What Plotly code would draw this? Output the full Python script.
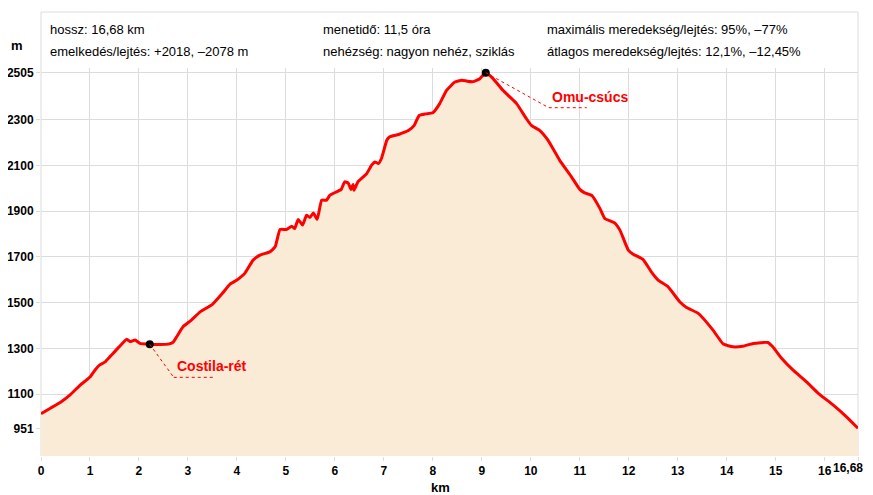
import plotly.graph_objects as go

# ---- data -------------------------------------------------------------
distance_km = [
    0.00, 0.20, 0.40, 0.60, 0.80, 1.00, 1.10, 1.20, 1.30, 1.40, 1.47, 1.60,
    1.75, 1.82, 1.92, 2.02, 2.22, 2.43, 2.62, 2.70, 2.77, 2.90, 3.07, 3.25,
    3.50, 3.70, 3.86, 4.00, 4.16, 4.33, 4.47, 4.67, 4.78, 4.88, 5.01, 5.12,
    5.18, 5.25, 5.34, 5.42, 5.49, 5.56, 5.64, 5.73, 5.83, 5.90, 6.03, 6.13,
    6.20, 6.27, 6.33, 6.37, 6.39, 6.47, 6.58, 6.65, 6.75, 6.82, 6.89, 6.95,
    7.00, 7.06, 7.12, 7.30, 7.50, 7.62, 7.72, 7.85, 8.00, 8.14, 8.28, 8.45,
    8.59, 8.70, 8.82, 8.96, 9.08, 9.23, 9.43, 9.71, 9.91, 10.01, 10.18,
    10.35, 10.59, 10.83, 11.00, 11.10, 11.25, 11.41, 11.51, 11.71, 11.82,
    11.99, 12.09, 12.29, 12.46, 12.60, 12.80, 13.04, 13.18, 13.42, 13.72,
    13.93, 14.13, 14.33, 14.54, 14.84, 14.94, 15.12, 15.35, 15.63, 15.87,
    16.17, 16.44, 16.68,
]
elevation_m = [
    1015, 1040, 1065, 1098, 1140, 1175, 1205, 1228, 1240, 1262, 1278, 1308,
    1340, 1330, 1337, 1322, 1318, 1317, 1320, 1328, 1351, 1395, 1424, 1460,
    1493, 1540, 1581, 1599, 1628, 1686, 1708, 1722, 1744, 1820, 1820, 1834,
    1824, 1864, 1839, 1882, 1872, 1892, 1864, 1948, 1948, 1970, 1984, 1995,
    2028, 2023, 1995, 2016, 1991, 2028, 2050, 2064, 2101, 2115, 2108, 2130,
    2166, 2210, 2225, 2235, 2252, 2275, 2318, 2325, 2330, 2370, 2428, 2464,
    2472, 2468, 2466, 2479, 2505, 2479, 2428, 2370, 2304, 2275, 2253,
    2210, 2122, 2050, 1995, 1980, 1968, 1912, 1868, 1849, 1817,
    1730, 1712, 1689, 1635, 1599, 1570, 1504, 1479, 1453, 1380,
    1319, 1307, 1310, 1322, 1326, 1307, 1257, 1206, 1154, 1104,
    1053, 1002, 951,
]

waypoint_names = ["Costila-rét", "Omu-csúcs"]
waypoint_km = [2.22, 9.08]
waypoint_m = [1318, 2505]

x_tickvals = [0, 1, 2, 3, 4, 5, 6, 7, 8, 9, 10, 11, 12, 13, 14, 15, 16, 16.68]
x_ticktext = ["0", "1", "2", "3", "4", "5", "6", "7", "8", "9", "10", "11",
              "12", "13", "14", "15", "16", "16,68"]
y_tickvals = [951, 1100, 1300, 1500, 1700, 1900, 2100, 2300, 2505]
y_ticktext = ["951", "1100", "1300", "1500", "1700", "1900", "2100", "2300", "2505"]

header_col1 = ["hossz: 16,68 km", "emelkedés/lejtés: +2018, –2078 m"]
header_col2 = ["menetidő: 11,5 óra", "nehézség: nagyon nehéz, sziklás"]
header_col3 = ["maximális meredekség/lejtés: 95%, –77%",
               "átlagos meredekség/lejtés: 12,1%, –12,45%"]

# ---- style ------------------------------------------------------------
FONT = "Liberation Sans, Arial, sans-serif"
GRID = "#DCDCDC"
RED = "#FF0000"

fig = go.Figure()
fig.add_trace(go.Scatter(
    x=distance_km, y=elevation_m, mode="lines",
    line=dict(color=RED, width=3, shape="spline", smoothing=0.4),
    fill="tozeroy", fillcolor="#FAEBD7", hoverinfo="skip", showlegend=False,
))
fig.add_trace(go.Scatter(
    x=waypoint_km, y=waypoint_m, mode="markers",
    marker=dict(color="black", size=8), hoverinfo="skip", showlegend=False,
))

# leader lines + labels
leader = [(24, -33, 63), (63, -35, 101)]
for name, xk, ym, (dx, dy, hx) in zip(waypoint_names, waypoint_km, waypoint_m, leader):
    fig.add_shape(type="line", xref="x", yref="y", xsizemode="pixel", ysizemode="pixel",
                  xanchor=xk, yanchor=ym, x0=0, y0=0, x1=dx, y1=dy,
                  line=dict(color=RED, width=1, dash="dot"), layer="above")
    fig.add_shape(type="line", xref="x", yref="y", xsizemode="pixel", ysizemode="pixel",
                  xanchor=xk, yanchor=ym, x0=dx, y0=dy, x1=hx, y1=dy,
                  line=dict(color=RED, width=1, dash="dot"), layer="above")
    fig.add_annotation(x=xk, y=ym, xref="x", yref="y", text="<b>%s</b>" % name,
                       showarrow=False, xanchor="left", yanchor="middle",
                       xshift=dx + 1, yshift=dy + 11,
                       font=dict(family=FONT, size=14, color=RED))

# header frame
PLOT_H = 388.0
top_y = 1 + 56 / PLOT_H
for x0, y0, x1, y1 in [(0, top_y, 1, top_y), (0, 0, 0, top_y), (1, 0, 1, top_y)]:
    fig.add_shape(type="line", xref="paper", yref="paper", x0=x0, y0=y0, x1=x1, y1=y1,
                  line=dict(color=GRID, width=1), layer="below")

# header texts
for col, xs in [(header_col1, 7), (header_col2, 280), (header_col3, 504)]:
    for txt, ys in zip(col, [39, 17]):
        fig.add_annotation(x=0, y=1, xref="paper", yref="paper", text=txt,
                           showarrow=False, xanchor="left", yanchor="middle",
                           xshift=xs, yshift=ys,
                           font=dict(family=FONT, size=13, color="black"))

fig.add_annotation(x=0, y=1, xref="paper", yref="paper", text="<b>m</b>",
                   showarrow=False, xanchor="center", yanchor="middle",
                   xshift=-24, yshift=23, font=dict(family=FONT, size=13, color="black"))
fig.add_annotation(x=(440 - 41) / 817, y=0, xref="paper", yref="paper", text="<b>km</b>",
                   showarrow=False, xanchor="center", yanchor="middle",
                   yshift=-31, font=dict(family=FONT, size=13, color="black"))

# last tick label (end of track) right-aligned so it stays inside the window
fig.add_annotation(x=x_tickvals[-1], y=0, xref="x", yref="paper",
                   text="<b>%s</b>" % x_ticktext[-1], showarrow=False,
                   xanchor="right", yanchor="middle", xshift=7, yshift=-12,
                   font=dict(family=FONT, size=12, color="black"))

fig.update_xaxes(range=[0, 16.68], tickmode="array", tickvals=x_tickvals,
                 ticktext=["<b>%s</b>" % t for t in x_ticktext[:-1]] + [""],
                 showgrid=True, gridcolor=GRID, gridwidth=1, zeroline=False,
                 showline=False, ticks="outside", ticklen=4, tickcolor=GRID,
                 automargin=False, ticklabelstandoff=0,
                 tickfont=dict(family=FONT, size=12, color="black"))
fig.update_yaxes(range=[830, 2525.5], tickmode="array", tickvals=y_tickvals,
                 ticktext=["<b>%s</b>" % t for t in y_ticktext],
                 showgrid=True, gridcolor=GRID, gridwidth=1, zeroline=False,
                 showline=False, ticks="outside", ticklen=4, tickcolor=GRID,
                 automargin=False,
                 tickfont=dict(family=FONT, size=12, color="black"))

# the page body adds an 8px offset, so the figure is sized/shifted to compensate
fig.update_layout(width=865, height=487,
                  margin=dict(l=33, r=15, t=60, b=39, autoexpand=False),
                  plot_bgcolor="white", paper_bgcolor="white", showlegend=False)

fig.write_html("out.html")
